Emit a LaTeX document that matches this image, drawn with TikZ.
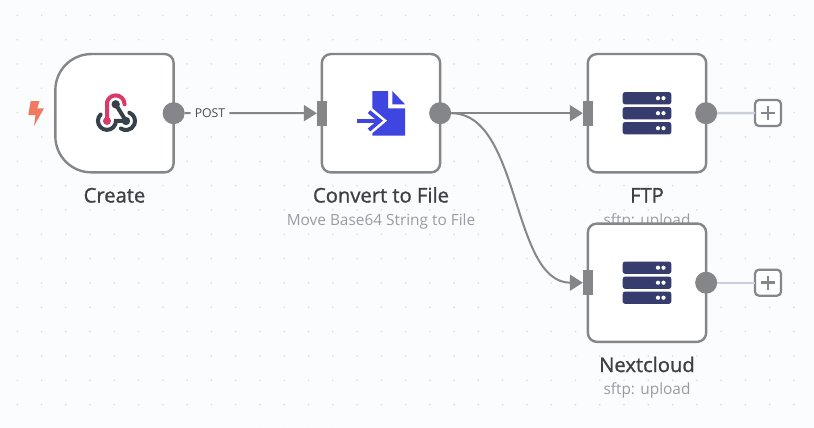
\documentclass[tikz,border=0pt]{standalone}
\usepackage{fontspec}
\setmainfont{Open Sans}
\newfontfamily\titlefont[FakeBold=1.1]{Open Sans}
\usetikzlibrary{arrows.meta}
\definecolor{pagebg}{HTML}{FBFCFE}
\definecolor{griddot}{HTML}{DDDFE6}
\definecolor{wirecol}{HTML}{85868A}
\definecolor{stubcol}{HTML}{CBCFDB}
\definecolor{titlecol}{HTML}{3F4045}
\definecolor{subcol}{HTML}{9A9CA3}
\definecolor{postcol}{HTML}{4A4B50}
\definecolor{serverblue}{HTML}{363C6E}
\definecolor{fileblue}{HTML}{3F46E0}
\definecolor{hookpink}{HTML}{DB3A68}
\definecolor{hookdark}{HTML}{37414A}
\definecolor{boltcol}{HTML}{F0795F}
\tikzset{
  x=1pt, y=1pt,
  flowbox/.style={rectangle, draw=wirecol, fill=white, line width=2.4pt, rounded corners=9pt, minimum size=118.3pt, inner sep=0pt, outer sep=0pt},
  outport/.style={circle, fill=wirecol, minimum size=22pt, inner sep=0pt, outer sep=0pt},
  inport/.style={rectangle, fill=wirecol, minimum width=10pt, minimum height=25pt, inner sep=0pt, outer sep=0pt},
  wire/.style={draw=wirecol, line width=2pt},
  wirearrow/.style={wire, -{Triangle[length=13pt,width=16pt]}},
  stub/.style={draw=stubcol, line width=2.4pt},
  plusbox/.style={rectangle, draw=wirecol, fill=white, line width=2.2pt, rounded corners=4pt, minimum size=26pt, inner sep=0pt, outer sep=0pt},
  title/.style={anchor=base, text=titlecol, font=\titlefont\fontsize{20.2}{22}\selectfont, inner sep=0pt},
  subtitle/.style={anchor=base, text=subcol, font=\fontsize{15.4}{17}\selectfont, inner sep=0pt},
  postlabel/.style={text=postcol, font=\fontsize{12.2}{14}\selectfont, inner sep=4pt},
  hookline/.style={line width=4pt, line cap=round},
}
\newcommand{\serverbars}[2]{
  \foreach \bary in {-15,0,15} {
    \fill[serverblue, rounded corners=2.5pt] (#1-24.3,#2+\bary+6.2) rectangle (#1+24.3,#2+\bary-6.2);
    \fill[white] (#1+11,#2+\bary) circle (2.1);
    \fill[white] (#1+16.5,#2+\bary) circle (2.1);
  }
}
\newcommand{\plusmark}[1]{
  \draw[wirecol, line width=2.6pt] ([xshift=-7pt]#1.center) -- ([xshift=7pt]#1.center);
  \draw[wirecol, line width=2.6pt] ([yshift=-7pt]#1.center) -- ([yshift=7pt]#1.center);
}
\begin{document}
\begin{tikzpicture}
  \useasboundingbox (0,0) rectangle (814,-428);
  \fill[pagebg] (0,0) rectangle (814,-428);
  \foreach \i in {0,...,34} {
    \foreach \j in {0,...,17} {
      \fill[griddot] (-7+\i*24.27,-15.3-\j*24.33) circle (0.95);
    }
  }

  \node[flowbox, draw=none, fill=none] (create) at (114.5,-113.2) {};
  \filldraw[draw=wirecol, fill=white, line width=2.4pt]
    ([xshift=36pt]create.north west) -- ([xshift=-9pt]create.north east)
    arc[start angle=90, end angle=0, radius=9] -- ([yshift=9pt]create.south east)
    arc[start angle=0, end angle=-90, radius=9] -- ([xshift=36pt]create.south west)
    arc[start angle=270, end angle=180, radius=36] -- ([yshift=-36pt]create.north west)
    arc[start angle=180, end angle=90, radius=36] -- cycle;
  \node[flowbox] (convert) at (381,-113.2) {};
  \node[flowbox] (ftp) at (647,-113.2) {};

  \node[title] (createtitle) at (114.5,-202.5) {Create};
  \node[title] (converttitle) at (381,-202.5) {Convert to File};
  \node[subtitle] (convertsub) at (381,-225) {Move Base64 String to File};
  \node[title] (ftptitle) at (647,-202.5) {FTP};
  \node[subtitle] (ftpsub) at (647,-225) {sftp: upload};

  \node[flowbox] (nextcloud) at (647,-282.7) {};
  \node[title] (nextcloudtitle) at (647,-372) {Nextcloud};
  \node[subtitle] (nextcloudsub) at (647,-394.5) {sftp: upload};

  \node[outport] (createout) at (create.east) {};
  \node[outport] (convertout) at (convert.east) {};
  \node[outport] (ftpout) at (ftp.east) {};
  \node[outport] (nextcloudout) at (nextcloud.east) {};
  \node[inport] (convertin) at (convert.west) {};
  \node[inport] (ftpin) at (ftp.west) {};
  \node[inport] (nextcloudin) at (nextcloud.west) {};
  \node[postlabel] (post) at (210,-113) {POST};
  \node[plusbox] (ftpplus) at (768,-113) {};
  \node[plusbox] (nextcloudplus) at (768,-282.7) {};

  \draw[wire] (createout) -- (post);
  \draw[wirearrow] (post) -- (convertin);
  \draw[wirearrow] (convertout) -- (ftpin);
  \draw[wirearrow] (convertout.east) .. controls +(70,0) and +(-72,0) .. (nextcloudin.west);
  \draw[stub] (ftpout) -- (ftpplus);
  \draw[stub] (nextcloudout) -- (nextcloudplus);
  \plusmark{ftpplus}
  \plusmark{nextcloudplus}

  % trigger bolt
  \fill[boltcol] (30.7,-101) -- (39.5,-101) -- (37.3,-108.3) -- (44,-108.3) -- (34,-126) -- (35.5,-115) -- (28.3,-115) -- cycle;

  % webhook icon
  \draw[hookpink, hookline] (124.6,-104.3) arc[start angle=0, end angle=165, radius=8.9] -- (107,-121);
  \fill[hookpink] (107,-121) circle (4);
  \draw[hookdark, hookline] (100.6,-114.5) arc[start angle=135, end angle=360, radius=9] -- (126,-121);
  \draw[hookdark, hookline] (115.7,-104.3) -- (126,-121);
  \draw[hookdark, hookline] (129.4,-112.7) arc[start angle=68, end angle=-125, radius=9];
  \fill[hookdark] (115.7,-104.3) circle (4.2);
  \fill[hookdark] (126,-121) circle (4.2);

  % file icon
  \fill[fileblue] (372.3,-91) -- (388,-91) -- (388,-108.3) -- (405,-108.3) -- (405,-135.7) -- (372.3,-135.7) -- cycle;
  \fill[fileblue] (392.3,-91) -- (405,-104.3) -- (392.3,-104.3) -- cycle;
  \draw[white, line width=9pt] (366,-109) -- (380,-120.7) -- (366,-132.5);
  \fill[white] (355,-125.5) rectangle (376,-116);
  \draw[fileblue, line width=3.8pt] (357,-120.7) -- (379,-120.7);
  \draw[fileblue, line width=3.8pt] (369,-111.7) -- (380,-120.7) -- (369,-130);

  % server icons
  \serverbars{647}{-113.2}
  \serverbars{647}{-282.7}
\end{tikzpicture}
\end{document}
